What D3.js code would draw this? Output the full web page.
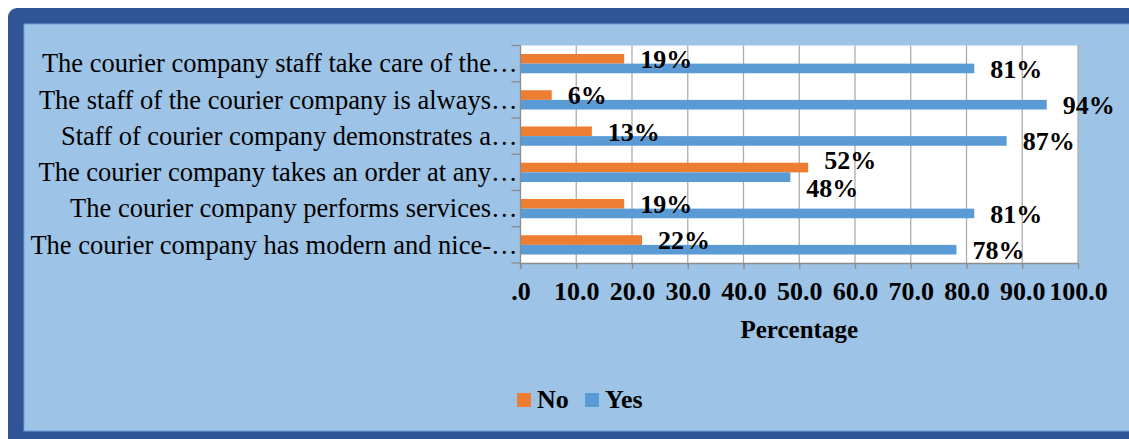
<!DOCTYPE html>
<html>
<head>
<meta charset="utf-8">
<script src="https://cdn.jsdelivr.net/npm/d3@7"></script>
<style>
  body { margin: 0; background: #fff; }
  svg { display: block; }
</style>
</head>
<body>
<svg width="1129" height="439"></svg>
<script>
var categories = [
  "The courier company staff take care of the\u2026",
  "The staff of the courier company is always\u2026",
  "Staff of courier company demonstrates a\u2026",
  "The courier company takes an order at any\u2026",
  "The courier company performs services\u2026",
  "The courier company has modern and nice-\u2026"
];
var series = ["No", "Yes"];
var noValues = [18.6, 5.6, 12.8, 51.6, 18.6, 21.8];
var yesValues = [81.4, 94.4, 87.2, 48.4, 81.4, 78.2];
var xTicks = [0, 10, 20, 30, 40, 50, 60, 70, 80, 90, 100];
var colors = { No: "#ED7D31", Yes: "#5B9BD5" };

var svg = d3.select("svg");
var serif = "'Liberation Serif', 'Times New Roman', serif";

// frame
svg.append("rect")
  .attr("x", 8).attr("y", 8)
  .attr("width", 1140).attr("height", 445)
  .attr("rx", 9)
  .attr("fill", "#2F5597");
svg.append("rect")
  .attr("x", 24).attr("y", 24)
  .attr("width", 1120).attr("height", 407)
  .attr("fill", "#9DC3E6")
  .attr("stroke", "#6F9FD6")
  .attr("stroke-width", 1);

var pLeft = 520.5, pRight = 1078, pTop = 45.5, pBottom = 263;

var x = d3.scaleLinear().domain([0, 100]).range([pLeft, pRight]);
var y = d3.scaleBand().domain(categories).range([pTop, pBottom]);
var sub = d3.scaleBand().domain(series).range([0, y.bandwidth()]).paddingOuter(0.88);

// plot area
svg.append("rect")
  .attr("x", pLeft).attr("y", pTop)
  .attr("width", pRight - pLeft).attr("height", pBottom - pTop)
  .attr("fill", "#fff");

// gridlines
svg.append("g")
  .selectAll("line")
  .data(xTicks.slice(1))
  .enter()
  .append("line")
  .attr("x1", function (d) { return x(d); })
  .attr("x2", function (d) { return x(d); })
  .attr("y1", pTop).attr("y2", pBottom)
  .attr("stroke", "#ADADAD")
  .attr("stroke-width", 1.3);

var rows = categories.map(function (c, i) {
  return { cat: c, No: noValues[i], Yes: yesValues[i] };
});

// bars
var groups = svg.append("g")
  .selectAll("g")
  .data(rows)
  .enter()
  .append("g")
  .attr("transform", function (d) { return "translate(0," + y(d.cat) + ")"; });

groups.selectAll("rect")
  .data(function (d) { return series.map(function (s) { return { s: s, v: d[s] }; }); })
  .enter()
  .append("rect")
  .attr("x", x(0))
  .attr("y", function (d) { return sub(d.s); })
  .attr("width", function (d) { return x(d.v) - x(0); })
  .attr("height", sub.bandwidth())
  .attr("fill", function (d) { return colors[d.s]; });

// data labels (pushed apart where the two bars are about the same length)
groups.selectAll("text")
  .data(function (d) {
    var close = Math.abs(d.No - d.Yes) < 10;
    return series.map(function (s) {
      return { s: s, v: d[s], shift: close ? (s === "No" ? -8 : 10) : 0 };
    });
  })
  .enter()
  .append("text")
  .attr("x", function (d) { return x(d.v) + 16; })
  .attr("y", function (d) { return sub(d.s) + sub.bandwidth() / 2 + d.shift; })
  .attr("dy", "0.36em")
  .style("font-family", serif)
  .style("font-weight", "bold")
  .style("font-size", "26px")
  .attr("fill", "#000")
  .text(function (d) { return Math.round(d.v) + "%"; });

// Y axis
var yAxis = svg.append("g")
  .attr("transform", "translate(" + pLeft + ",0)");
yAxis.append("line")
  .attr("x1", 0).attr("x2", 0).attr("y1", pTop).attr("y2", pBottom + 6)
  .attr("stroke", "#8C8C8C").attr("stroke-width", 1.3);
yAxis.selectAll(".tk")
  .data(categories.map(function (c) { return y(c); }).concat([pBottom]))
  .enter()
  .append("line")
  .attr("x1", -9).attr("x2", 0)
  .attr("y1", function (d) { return d; })
  .attr("y2", function (d) { return d; })
  .attr("stroke", "#8C8C8C").attr("stroke-width", 1.3);
yAxis.selectAll("text")
  .data(categories)
  .enter()
  .append("text")
  .attr("x", -3)
  .attr("y", function (d) { return y(d) + y.bandwidth() / 2; })
  .attr("dy", "0.33em")
  .attr("text-anchor", "end")
  .style("font-family", serif)
  .style("font-size", "26.5px")
  .attr("fill", "#000")
  .text(function (d) { return d; });

// X axis
var xAxis = svg.append("g")
  .attr("transform", "translate(0," + pBottom + ")")
  .call(d3.axisBottom(x).tickValues(xTicks).tickSize(6).tickSizeOuter(0)
    .tickFormat(function (d) { return d === 0 ? ".0" : d3.format(".1f")(d); }));
xAxis.select(".domain").attr("stroke", "#8C8C8C").attr("stroke-width", 1.3);
xAxis.selectAll(".tick line").attr("stroke", "#8C8C8C").attr("stroke-width", 1.3);
xAxis.selectAll(".tick text")
  .attr("y", 37)
  .attr("dy", 0)
  .style("font-family", serif)
  .style("font-weight", "bold")
  .style("font-size", "26px")
  .attr("fill", "#000");

// X label
svg.append("text")
  .attr("x", (pLeft + pRight) / 2)
  .attr("y", 338)
  .attr("text-anchor", "middle")
  .style("font-family", serif)
  .style("font-weight", "bold")
  .style("font-size", "25px")
  .text("Percentage");

// legend
var legend = svg.append("g");
var legendX = [517, 585];
series.forEach(function (s, i) {
  legend.append("rect")
    .attr("x", legendX[i]).attr("y", 393)
    .attr("width", 14).attr("height", 14)
    .attr("fill", colors[s]);
  legend.append("text")
    .attr("x", legendX[i] + 20).attr("y", 408)
    .style("font-family", serif)
    .style("font-weight", "bold")
    .style("font-size", "26px")
    .text(s);
});
</script>
</body>
</html>
